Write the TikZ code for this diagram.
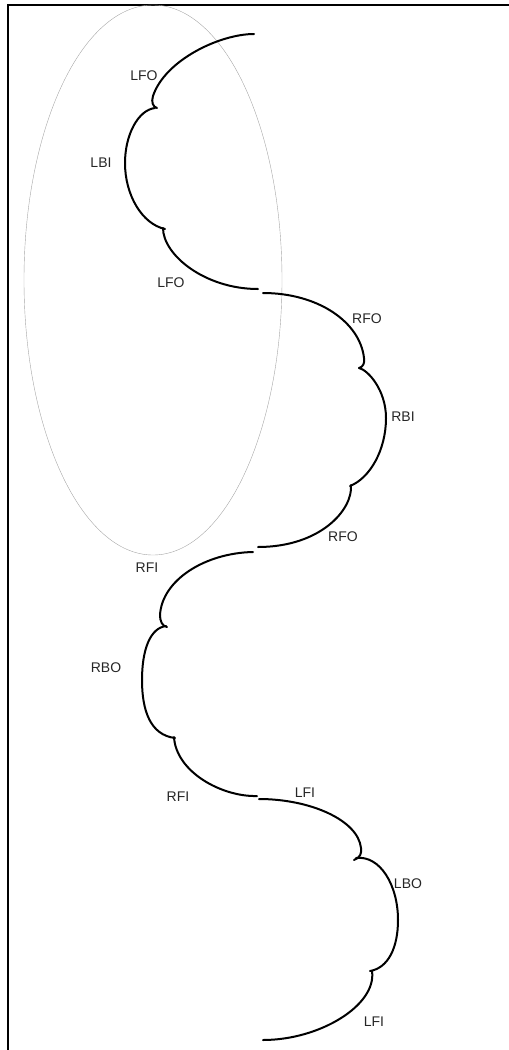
\documentclass[tikz,border=0pt]{standalone}
\usepackage{fontspec}
\setmainfont{Liberation Sans}
\begin{document}
\begin{tikzpicture}[x=1bp,y=-1bp,
  edge/.style={line width=2bp,line cap=round,line join=round},
  lbl/.style={font=\fontsize{14bp}{16bp}\selectfont,text=black!85,inner sep=0pt,anchor=center},
  frame/.style={line width=2bp},
  zone/.style={draw=black!35,line width=0.4bp}]
\useasboundingbox (0,0) rectangle (509,1050);
% frame
\draw[frame] (509,5) -- (8,5) -- (8,1050);
% ellipse
\draw[zone] (153,280) ellipse [x radius=129bp, y radius=275bp];
% section 1
\draw[edge] (254,34) .. controls (220,34) and (165,60) .. (153,96) .. controls (151,102) and (153,107) .. (157,108);
\draw[edge] (155,108) .. controls (138,110) and (125,135) .. (125,163) .. controls (125,195) and (142,224) .. (165,229);
\draw[edge] (163,228) .. controls (163,255) and (205,289) .. (258,289);
% section 2
\draw[edge] (263,293) .. controls (318,293) and (360,322) .. (364,358) .. controls (365,363) and (363,367) .. (359,368);
\draw[edge] (359,368) .. controls (368,370) and (386,390) .. (386,418) .. controls (386,450) and (370,478) .. (350,486);
\draw[edge] (351,485) .. controls (353,510) and (320,547) .. (258,547);
% section 3
\draw[edge] (253,552) .. controls (205,553) and (162,580) .. (160,615) .. controls (160,621) and (162,626) .. (167,627);
\draw[edge] (166,626) .. controls (150,628) and (142,650) .. (142,680) .. controls (142,710) and (150,735) .. (175,738);
\draw[edge] (174,737) .. controls (176,772) and (222,797) .. (257,796);
% section 4
\draw[edge] (259,799) .. controls (310,799) and (358,820) .. (361,848) .. controls (362,853) and (360,858) .. (354,860);
\draw[edge] (356,858) .. controls (380,855) and (398,885) .. (398,920) .. controls (398,948) and (388,968) .. (370,971);
\draw[edge] (372,971) .. controls (377,1005) and (320,1040) .. (263,1040);
% labels
\node[lbl] (l1) at (144,76) {LFO};
\node[lbl] (l2) at (101,163) {LBI};
\node[lbl] (l3) at (171,283) {LFO};
\node[lbl] (l4) at (367,319) {RFO};
\node[lbl] (l5) at (403,417) {RBI};
\node[lbl] (l6) at (343,537) {RFO};
\node[lbl] (l7) at (147,568) {RFI};
\node[lbl] (l8) at (106,668) {RBO};
\node[lbl] (l9) at (178,797) {RFI};
\node[lbl] (l10) at (305,793) {LFI};
\node[lbl] (l11) at (408,884) {LBO};
\node[lbl] (l12) at (374,1022) {LFI};
\end{tikzpicture}
\end{document}
